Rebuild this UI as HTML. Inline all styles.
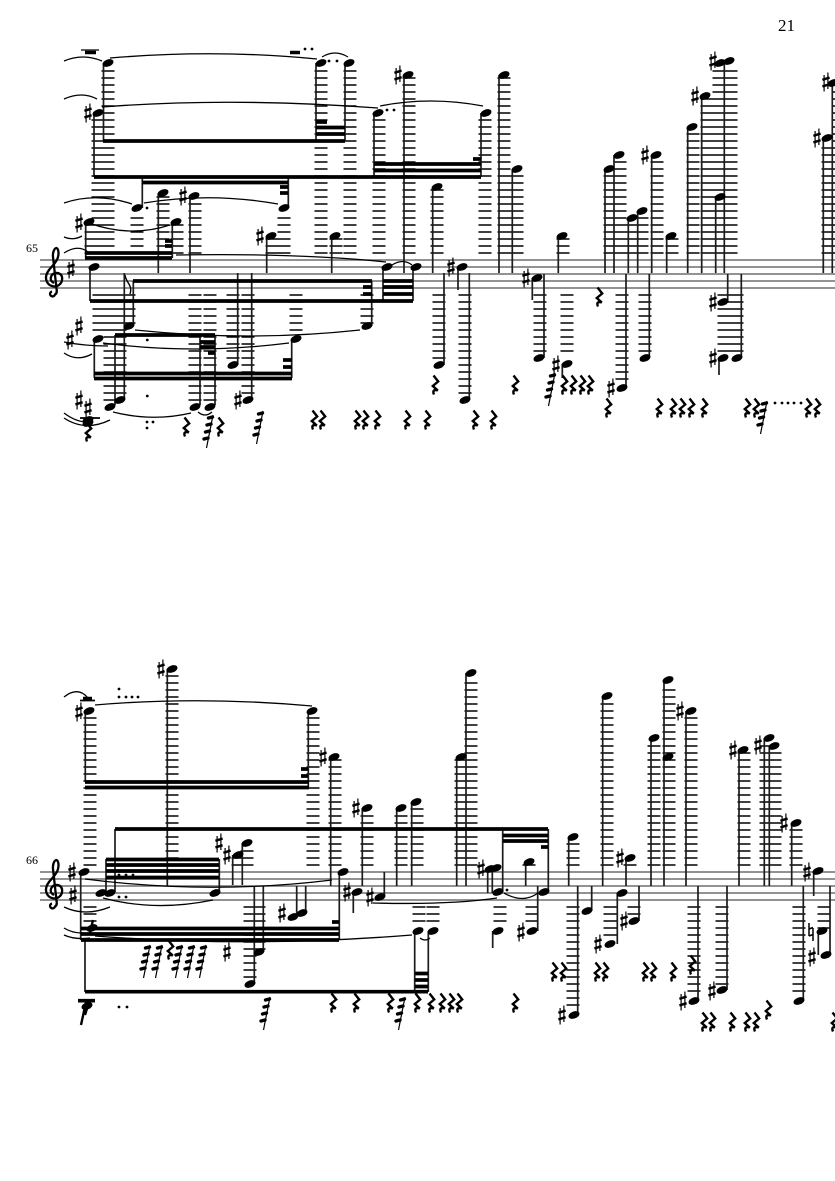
<!DOCTYPE html>
<html><head><meta charset="utf-8"><title>Score page 21</title>
<style>
html,body{margin:0;padding:0;background:#fff}
svg{display:block}
.staff{stroke:#6e6e6e;stroke-width:1.6;fill:none}
.led{stroke:#000;stroke-width:13;stroke-dasharray:1.6 5.4;fill:none}
.st{stroke:#1c1c1c;stroke-width:1.7;fill:none}
.bm{stroke:#000;stroke-width:3.7;fill:none}
.sl{stroke:#000;stroke-width:1.3;fill:none}
.dot{stroke:#000;stroke-width:2.8;stroke-linecap:round;fill:none}
.mk{fill:none;stroke:none}
text{font-family:"Liberation Serif",serif;fill:#000}
</style></head><body>
<svg width="835" height="1181" viewBox="0 0 835 1181" xmlns="http://www.w3.org/2000/svg">
<defs>
<marker id="n" markerUnits="userSpaceOnUse" markerWidth="1" markerHeight="1" style="overflow:visible"><ellipse rx="5.700" ry="3.500" transform="rotate(-20)" fill="#000"/></marker>
<marker id="s" markerUnits="userSpaceOnUse" markerWidth="1" markerHeight="1" style="overflow:visible"><path d="M-1.900-7V9.500M1.900-9.500V7" stroke="#000" stroke-width="1.200" fill="none"/><path d="M-3.600-2.200 3.600-4.400M-3.600 4.400 3.600 2.200" stroke="#000" stroke-width="2.500" fill="none"/></marker>
<marker id="r" markerUnits="userSpaceOnUse" markerWidth="1" markerHeight="1" style="overflow:visible"><path d="M-1.500-9.500 3.200-3.500-2.200 1 2.800 5.500C0 4.500-3 5-1 9.500" stroke="#000" stroke-width="2.400" fill="none"/></marker>
<marker id="f" markerUnits="userSpaceOnUse" markerWidth="1" markerHeight="1" style="overflow:visible"><path d="M0 0-6.500 33" stroke="#000" stroke-width="1.200" fill="none"/><path d="M-.5 2-4.500 3M-2 9-6 10M-3.500 16-7.500 17M-5 23-9 24" stroke="#000" stroke-width="3.400" stroke-linecap="round" fill="none"/></marker>
</defs>

<text x="778" y="31" font-size="17">21</text>
<text x="26" y="252" font-size="12">65</text>
<text x="26" y="864" font-size="12">66</text>

<!-- staves -->
<path class="staff" d="M40 260H835M40 267H835M40 274H835M40 281H835M40 288H835M40 872H835M40 879H835M40 886H835M40 893H835M40 900H835"/>

<!-- clefs -->
<g id="clefs" fill="none" stroke="#000" stroke-width="2.300">
<path d="M52 291.500a2.500 2.500 0 1 0 3 3c2-1 2-3 1.500-6L53 257c-.5-5 1.500-9 3.500-9 2 1 2.500 5 1.500 9-1 5-6 9-9 13-3 4-4 8-2 12 2 4 8 6 12 3 4-3 4-9 1-11-3-2-8-1-9 3-1 3 1 5 3 6"/>
<path transform="translate(0 612)" d="M52 291.500a2.500 2.500 0 1 0 3 3c2-1 2-3 1.500-6L53 257c-.5-5 1.500-9 3.500-9 2 1 2.500 5 1.500 9-1 5-6 9-9 13-3 4-4 8-2 12 2 4 8 6 12 3 4-3 4-9 1-11-3-2-8-1-9 3-1 3 1 5 3 6"/>
</g>

<!-- ledger lines: system 1 above -->
<path class="led" d="M108 253.800V70M98 253.800V119M137 253.800V217M284 253.800V217M163 253.800V196M177 253.800V224M195 253.800V203M91 253.800V224M272 253.800V238M321 253.800V70M350 253.800V70M336 253.800V238M379 253.800V119M485 253.800V119M409 253.800V77M437 253.800V189M504 253.800V77M517 253.800V175M563 253.800V238M610 253.800V175M620 253.800V161M632 253.800V224M642 253.800V217M657 253.800V161M672 253.800V238M693 253.800V133M707 253.800V98M719 253.800V70M731 253.800V70M828 253.800V147M838 253.800V91"/>
<!-- system 1 below -->
<path class="led" d="M99 294.200V331M129 294.200V324M110 294.200V401M120 294.200V394M195 294.200V401M210 294.200V401M233 294.200V359M248 294.200V394M296 294.200V331M367 294.200V324M439 294.200V359M465 294.200V394M540 294.200V352M567 294.200V352M622 294.200V380M645 294.200V352M724 294.200V352M737 294.200V352"/>
<!-- system 2 above -->
<path class="led" d="M90 865.800V717M172 865.800V675M313 865.800V717M335 865.800V759M247 865.800V850M238 865.800V857M367 865.800V815M401 865.800V815M417 865.800V808M461 865.800V759M471 865.800V682M529 865.800V864M573 865.800V843M607 865.800V703M630 865.800V864M654 865.800V745M669 865.800V689M691 865.800V717M744 865.800V752M766 865.800V745M775 865.800V752M796 865.800V829"/>
<!-- system 2 below -->
<path class="led" d="M90 906.200V922M259 906.200V950M250 906.200V978M500 906.200V922M532 906.200V922M419 906.200V922M433 906.200V922M573 906.200V1006M610 906.200V936M634 906.200V915M694 906.200V992M722 906.200V985M799 906.200V992M824 906.200V929"/>

<!-- stems system 1 -->
<path class="st" d="M103.500 63V141M94 113V177M142.300 178V208M288.300 177V208M158.300 193V273M172.300 222V258M190 196V273M85.700 222V258M266.700 236V273M90 267V301M133.300 281V326M124.300 273V398M115 335V405M215 335V405M200 335V405M94.300 339V378M291.700 339V378M237.700 273V365M251.700 273V400M316 63V141M345 63V141M331.700 236V273M374 113V177M481 113V177M404 75V273M432.700 187V273M499 75V273M512.300 169V273M558.300 236V273M383 267V301M413 267V301M371.700 281V326M444 273V365M458 267V290M469.300 273V400M532.300 278V300M544 274V358M562.300 364V378M605 169V273M614 155V273M628.300 218V273M637.700 211V273M651.700 155V273M666.700 236V273M687.700 127V273M701.700 96V273M724.300 61V273M715.700 197V273M626 274V388M649.300 274V358M727.700 274V302M719 358V375M741.300 274V358M823.300 138V273M832.300 83V273"/>
<path d="M125 275C126 283 133 285 130 294" fill="none" stroke="#000" stroke-width="1.400"/>

<!-- stems system 2 -->
<path class="st" d="M85.300 711V782M167.300 669V886M308.300 711V788M330.700 757V886M115 829V892M106 859V892M219.300 859V893M242.300 843V885M232.700 855V885M80.700 872V940M339.300 872V940M85 940V992M263.300 886V952M254.300 886V984M296.700 886V914M305.700 886V914M362.300 808V886M396.700 808V886M411.700 802V886M353.300 892V913M384.300 872V897M456.700 757V886M466 673V886M487.700 868V893M492.300 868V893M502.700 829V892M548.300 829V892M525.700 862V886M492.700 931V948M537.700 886V931M414.700 931V992M428.300 931V992M568.700 837V886M577.700 886V1015M591.700 886V911M602.700 696V886M626 858V886M617.300 893V944M639 886V921M651 738V886M664 680V886M686 711V886M698 886V1001M727 886V990M739 750V886M764.300 738V886M769.300 746V886M791.700 823V886M813.700 871V896M803.300 886V1001M830 886V955M818.300 931V955"/>

<!-- beams -->
<path class="bm" d="M103 141H345M316 122H327M316 127.500H345M316 134H345M94 177H481M142 182.500H288M280 187H288M280 193H288M374 164H481M374 170.500H481M473 159H481M85 253H172M85 258H172M165 241H172M165 246H172M133 281H372M90 301H413M363 287H372M363 294H372M383 281H413M383 287H413M383 294H413M115 335H215M200 342H215M200 347H215M208 353H215M94 373.500H292M94 378.500H292M283 360H292M283 367H292"/>
<path class="bm" d="M85 782H309M85 787.500H309M301 769H308M301 776H308M115 829H548M106 859.500H219M106 865H219M106 871H219M106 877.500H219M503 835.500H548M503 841H548M541 847H548M81 928.500H339M81 934H339M81 940H339M332 922H339M85 991.700H428M415 973.500H428M415 980H428M415 986.500H428"/>
<!-- whole / half rest blocks -->
<path d="M81 50H99" stroke="#000" stroke-width="1.200"/>
<path d="M85 52.500H96M290 52.500H300M83 698.500H92M78 1000.700H95" stroke="#000" stroke-width="3.600"/>
<path d="M80 700.500H95M80 418H100" stroke="#000" stroke-width="1.800"/>
<path d="M81 1025 86 1002M90 933 93 920M85 1015 89 1002" stroke="#000" stroke-width="2.400"/>

<!-- slurs system 1 -->
<path class="sl" d="M64 61Q83 53 102 61M110 58Q215 49 317 59M102 107Q230 97 378 108M64 99Q82 91 97 99M64 203Q96 192 132 204M144 203Q210 192 278 204M89 223Q130 238 170 225M64 237Q73 241 82 236M64 253Q78 244 88 252M322 57Q335 49 348 57M380 106Q430 96 483 106M392 265Q403 258 412 265M176 255Q300 253 386 262M135 330Q250 342 360 330M103 343Q193 355 289 343M113 412Q153 422 191 413M198 412Q205 418 212 412M64 353Q77 362 92 354M64 342Q85 346 108 346M64 413Q76 422 87 422M64 418Q85 432 110 420"/>
<!-- slurs system 2 -->
<path class="sl" d="M64 697Q78 686 88 698M95 705Q200 696 312 706M85 879Q210 895 332 880M103 898Q155 912 213 900M64 907Q85 917 110 907M64 928Q72 933 82 933M64 935Q75 940 90 938M95 936Q250 948 412 935M504 893Q523 904 538 893M373 903Q450 905 497 898M420 938Q425 942 430 938"/>

<!-- noteheads -->
<polyline class="mk" marker-start="url(#n)" marker-mid="url(#n)" marker-end="url(#n)" points="108,63 98,113 137,208 284,208 163,193 176,222 194,196 89,222 271,236 94,267 129,326 120,400 110,407 195,407 210,407 98,339 296,339 233,365 248,400 321,63 349,63 335,236 378,113 486,113 408,75 437,187 504,75 517,169 562,236 387,267 416,267 367,326 439,365 462,267 465,400 537,278 539,358 567,364 609,169 619,155 632,218 642,211 656,155 671,236 692,127 705,96 720,63 729,61 720,197 622,388 645,358 723,302 723,358 737,358 827,138 833,83 88,420 88,423"/>
<polyline class="mk" marker-start="url(#n)" marker-mid="url(#n)" marker-end="url(#n)" points="89,711 172,669 312,711 334,757 247,843 238,855 84,872 343,872 101,893 110,893 215,893 92,928 87,1006 259,952 250,984 293,917 302,913 367,808 401,808 416,802 357,892 380,897 461,757 471,673 490,869 496,868 498,892 544,892 529,862 498,931 532,931 418,931 433,931 573,837 587,911 574,1015 607,696 630,858 622,893 610,944 634,921 654,738 668,680 668,757 691,711 694,1001 722,990 743,750 769,738 774,746 796,823 818,871 799,1001 826,955 822,931"/>

<!-- sharps -->
<polyline class="mk" marker-start="url(#s)" marker-mid="url(#s)" marker-end="url(#s)" points="71,269 88,113 79,223 183,196 260,236 398,75 451,267 526,278 556,365 645,155 695,96 713,61 79,326 70,340 79,400 88,408 238,400 611,388 713,302 713,358 817,138 826,82"/>
<polyline class="mk" marker-start="url(#s)" marker-mid="url(#s)" marker-end="url(#s)" points="72,872 73,895 79,712 161,669 219,843 227,855 323,757 227,952 282,913 356,808 347,892 370,897 481,869 521,932 562,1015 598,944 620,858 624,921 680,711 683,1001 712,991 733,750 758,745 784,823 807,872 812,957"/>
<!-- natural -->
<path d="M809 923V936M813 928V941M809 929 813 927.500M809 936 813 934.500" stroke="#000" stroke-width="1.500" fill="none"/>

<!-- rests -->
<polyline class="mk" marker-start="url(#r)" marker-mid="url(#r)" marker-end="url(#r)" points="186,427 220,427 314,420 322,420 357,420 365,420 377,420 407,420 427,420 475,420 493,420 435,385 515,385 564,385 573,385 582,385 590,385 599,297 608,408 659,408 673,408 682,408 691,408 704,408 747,408 756,408 808,408 817,408 88,432"/>
<polyline class="mk" marker-start="url(#r)" marker-mid="url(#r)" marker-end="url(#r)" points="170,950 333,1003 356,1003 390,1003 417,1003 431,1003 442,1003 451,1003 459,1003 515,1003 554,972 563,972 597,972 605,972 645,972 653,972 673,972 692,965 704,1022 712,1022 732,1022 747,1022 756,1022 768,1010 834,1022"/>

<!-- slashed flag groups -->
<polyline class="mk" marker-start="url(#f)" marker-mid="url(#f)" marker-end="url(#f)" points="555,373 263,411 213,415 767,401"/>
<polyline class="mk" marker-start="url(#f)" marker-mid="url(#f)" marker-end="url(#f)" points="150,945 162,945 182,945 194,945 206,945 270,997 405,997"/>

<!-- dots -->
<path class="dot" d="M147 208h.01M305 49h.01M312 49h.01M147.300 340h.01M147.300 396h.01M147 422h.01M153 422h.01M147 428h.01M329 61h.01M337 61h.01M387 110h.01M394 110h.01M775 403h.01M782 403h.01M788 403h.01M794 403h.01M801 403h.01"/>
<path class="dot" d="M119 689h.01M119 697h.01M126 697h.01M132 697h.01M138 697h.01M119 1007h.01M127 1007h.01M119 875h.01M126 875h.01M133 875h.01M119 897h.01M126 897h.01M507 890h.01"/>
</svg>
</body></html>
